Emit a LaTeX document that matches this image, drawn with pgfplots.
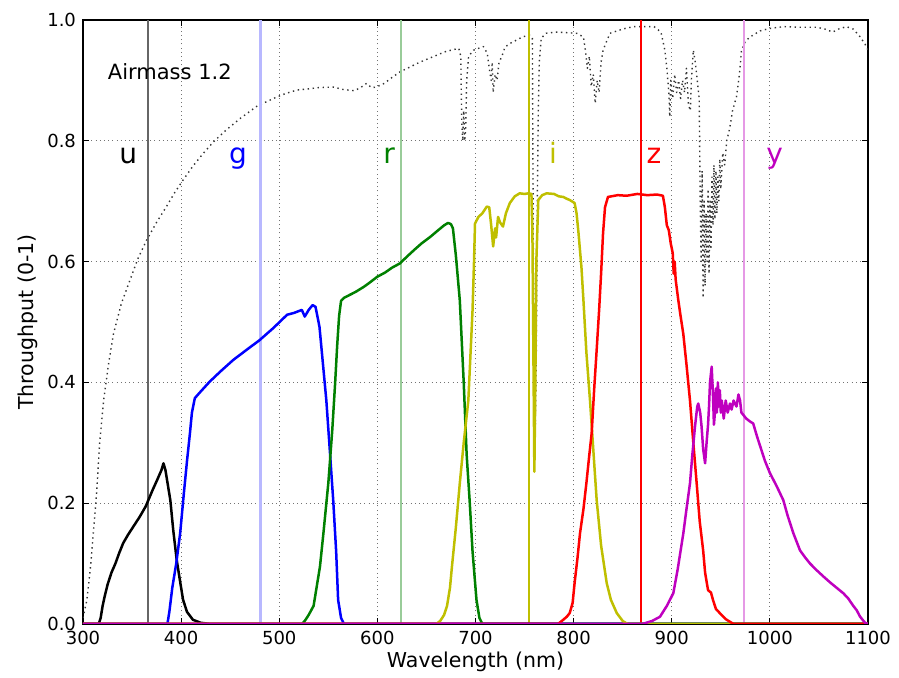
\documentclass[border=0pt]{standalone}
\usepackage{fontspec}
\setmainfont{DejaVu Sans}
\usepackage{pgfplots}
\pgfplotsset{compat=1.18}
\definecolor{mplgreen}{rgb}{0,0.5,0}
\definecolor{mplyellow}{rgb}{0.75,0.75,0}
\definecolor{mplmagenta}{rgb}{0.75,0,0.75}
\begin{document}
\begin{tikzpicture}
\useasboundingbox (-41.5pt,-27pt) rectangle (408pt,312pt);
\begin{axis}[
  scale only axis,
  width=392.5pt, height=302pt,
  xmin=300, xmax=1100, ymin=0, ymax=1,
  xtick={300,400,...,1100},
  ytick={0,0.2,...,1.0},
  xticklabel style={/pgf/number format/set thousands separator={}},
  yticklabel style={/pgf/number format/fixed,/pgf/number format/fixed zerofill,/pgf/number format/precision=1},
  /pgf/number format/assume math mode=true,
  ticklabel style={font=\fontsize{9pt}{11pt}\selectfont},
  label style={font=\fontsize{10.25pt}{12pt}\selectfont},
  xlabel={Wavelength (nm)},
  ylabel={Throughput (0-1)},
  xlabel style={yshift=3pt},
  ylabel style={yshift=-2pt},
  tick align=inside, major tick length=3pt,
  tick style={black, line width=0.5pt},
  axis line style={black, line width=0.6pt},
  grid=major,
  major grid style={black!55, line width=0.45pt, dash pattern=on 0.5pt off 1.6pt},
  every axis plot/.append style={line join=round},
]
% atmosphere, airmass 1.2
\addplot[black!80, line width=0.7pt, dash pattern=on 0.7pt off 1.8pt] coordinates {
(300,0.01) (304,0.04) (308,0.1) (311,0.16) (314,0.22) (317,0.3) (321,0.37) (326,0.43) (331,0.48)
(339,0.53) (348,0.57) (356,0.605) (365,0.636) (375,0.665) (385,0.691) (393,0.713) (402,0.735)
(412,0.758) (423,0.78) (434,0.8) (446,0.818) (461,0.838) (477,0.857) (494,0.87) (506,0.878)
(518,0.884) (530,0.886) (540,0.888) (555,0.889) (565,0.885) (576,0.883) (582,0.887) (589,0.895)
(594,0.888) (599,0.889) (607,0.895) (615,0.905) (623,0.914) (633,0.922) (643,0.93) (655,0.938)
(670,0.948) (683,0.953) (685,0.94) (686,0.83) (687,0.80) (688,0.85) (689,0.80) (690,0.82)
(691,0.90) (693,0.94) (698,0.95) (708,0.956) (712,0.945) (714,0.92) (716,0.90) (717,0.93)
(718,0.88) (720,0.91) (722,0.90) (724,0.93) (727,0.94) (730,0.955) (735,0.961) (748,0.972)
(755,0.975) (758,0.97) (759,0.6) (760,0.4) (761,0.33) (762,0.45) (763,0.7) (764,0.85) (765,0.93)
(767,0.97) (772,0.978) (782,0.98) (803,0.978) (810,0.972) (812,0.95) (814,0.92) (816,0.94)
(818,0.89) (820,0.91) (822,0.862) (824,0.90) (826,0.88) (828,0.93) (830,0.95) (837,0.978)
(850,0.985) (861,0.989) (882,0.989) (889,0.98) (893,0.95) (895,0.92) (897,0.88) (898,0.84)
(899,0.9) (901,0.87) (903,0.91) (905,0.88) (907,0.9) (909,0.87) (911,0.9) (913,0.88) (915,0.92)
(917,0.86) (919,0.85) (920,0.9) (922,0.95) (924,0.93) (926,0.9) (928,0.87) (929,0.7) (930,0.6)
(931,0.75) (932,0.54) (933,0.7) (934,0.56) (935,0.68) (936,0.6) (937,0.72) (938,0.58) (939,0.7)
(940,0.62) (941,0.74) (942,0.66) (943,0.76) (944,0.67) (945,0.75) (946,0.68) (947,0.74) (948,0.7)
(949,0.77) (950,0.72) (952,0.78) (954,0.76) (956,0.8) (959,0.82) (962,0.85) (966,0.873)
(969,0.91) (971,0.948) (975,0.965) (980,0.972) (986,0.978) (990,0.982) (1000,0.986) (1014,0.989)
(1030,0.988) (1048,0.988) (1056,0.985) (1064,0.98) (1070,0.985) (1078,0.989) (1085,0.985)
(1092,0.972) (1097,0.96) (1100,0.95)};
% filter centres
\addplot[black!60, line width=0.8pt] coordinates {(366,0) (366,1)};
\addplot[blue!28, line width=1.3pt] coordinates {(481,0) (481,1)};
\addplot[mplgreen!40, line width=1pt] coordinates {(624,0) (624,1)};
\addplot[mplyellow, line width=1pt] coordinates {(754.5,0) (754.5,1)};
\addplot[red, line width=1pt] coordinates {(868.7,0) (868.7,1)};
\addplot[mplmagenta!40, line width=1pt] coordinates {(974,0) (974,1)};
% u
\addplot[black, line width=1.25pt] coordinates {
(300,0) (316,0) (318,0.01) (320,0.03) (322,0.045) (325,0.065) (329,0.085) (333,0.1) (337,0.118)
(341,0.134) (346,0.148) (352,0.163) (358,0.178) (364,0.195) (371,0.222) (376,0.24) (380,0.255)
(382,0.266) (384,0.255) (386,0.235) (389,0.205) (392,0.155) (395.5,0.106) (399,0.07) (402,0.04)
(406,0.02) (412,0.007) (420,0.002) (430,0) (1100,0)};
% g
\addplot[blue, line width=1.25pt] coordinates {
(300,0) (386,0) (388,0.02) (391,0.06) (395,0.1) (399,0.15) (403,0.22) (406,0.27) (409,0.316)
(411,0.35) (414,0.374) (420,0.385) (429,0.401) (440,0.418) (453,0.437) (466,0.453) (480,0.47)
(494,0.49) (508,0.512) (515,0.515) (523,0.52) (526,0.509) (530,0.52) (534,0.528) (537,0.525)
(541,0.492) (544,0.44) (548,0.37) (551,0.3) (555,0.205) (558,0.12) (560,0.04) (563,0.01)
(566,0) (1100,0)};
% r
\addplot[mplgreen, line width=1.25pt] coordinates {
(300,0) (523,0) (526,0.005) (530,0.015) (535,0.03) (538,0.06) (541.5,0.095) (545,0.15)
(550,0.233) (554,0.32) (557,0.4) (559,0.46) (561,0.51) (563,0.535) (566,0.54) (572,0.545)
(578,0.55) (586,0.558) (592,0.565) (600,0.575) (608,0.582) (615,0.59) (623,0.597) (630,0.608)
(638,0.62) (645,0.63) (654,0.641) (662,0.652) (668,0.66) (672,0.664) (675,0.662) (677,0.655)
(680,0.61) (684,0.536) (688,0.40) (691,0.28) (694,0.205) (697,0.12) (701,0.04) (704,0.01)
(707,0) (1100,0)};
% i
\addplot[mplyellow, line width=1.25pt] coordinates {
(300,0) (660,0) (664,0.005) (668,0.015) (671,0.03) (674,0.06) (676,0.095) (680,0.16) (684,0.233)
(688,0.3) (692.7,0.37) (695,0.45) (697,0.52) (698.5,0.6) (699.5,0.663) (703,0.674) (707,0.68)
(711.5,0.691) (714,0.69) (716,0.66) (718,0.625) (720,0.655) (721,0.64) (723,0.674) (725,0.665)
(728,0.658) (731,0.68) (735,0.697) (740,0.708) (745,0.713) (750,0.712) (754,0.713) (757,0.712)
(758,0.65) (759,0.45) (760,0.252) (761,0.4) (762,0.6) (764,0.702) (768,0.71) (772.5,0.713)
(780,0.712) (785,0.708) (789.5,0.707) (793,0.704) (796,0.702) (801,0.697) (803,0.68) (805,0.647)
(808,0.59) (810,0.536) (813,0.45) (816.7,0.37) (820,0.29) (823.5,0.205) (828,0.13) (833.7,0.068)
(838,0.04) (844,0.018) (850,0.005) (855,0) (1100,0)};
% z
\addplot[red, line width=1.25pt] coordinates {
(300,0) (784,0) (788,0.005) (793,0.012) (796,0.018) (799,0.035) (801,0.068) (804,0.11)
(806.5,0.15) (810,0.19) (813,0.233) (816,0.28) (818.4,0.316) (821,0.39) (823.5,0.454) (826,0.52)
(828,0.58) (830,0.647) (832,0.69) (835,0.707) (845,0.71) (854,0.709) (865,0.712) (875,0.71)
(885,0.711) (891,0.709) (893,0.69) (895,0.66) (897,0.652) (899,0.63) (901,0.614) (902,0.58)
(903,0.6) (904,0.57) (906.7,0.536) (909,0.51) (911.8,0.48) (915,0.43) (918.6,0.37) (922,0.3)
(925.4,0.233) (928.5,0.17) (932,0.122) (934,0.085) (937,0.056) (940,0.052) (942,0.04) (945,0.025)
(949,0.018) (955,0.008) (963,0) (1100,0)};
% y
\addplot[mplmagenta, line width=1.25pt] coordinates {
(300,0) (870,0) (880,0.005) (888,0.012) (895,0.03) (901.6,0.051) (906,0.09) (911.8,0.15)
(915,0.19) (918.6,0.233) (921,0.28) (923.7,0.327) (926,0.36) (927,0.365) (929,0.35) (930.4,0.327)
(932,0.29) (934,0.266) (935.5,0.3) (937,0.33) (938,0.36) (939,0.4) (940.7,0.426) (942,0.38)
(943,0.33) (944,0.35) (945,0.39) (946,0.35) (947,0.4) (948,0.36) (949,0.387) (950,0.35) (951,0.37)
(953,0.34) (955,0.37) (957,0.35) (959.4,0.365) (961,0.355) (963,0.37) (966,0.36) (968,0.38)
(969.6,0.37) (971,0.35) (973,0.346) (976,0.34) (980,0.335) (983,0.332) (987,0.31) (991,0.29)
(995,0.27) (1000,0.25) (1007,0.228) (1013.7,0.205) (1018,0.18) (1024,0.15) (1030.7,0.122)
(1036,0.11) (1041,0.1) (1047.7,0.089) (1055,0.078) (1062,0.068) (1068,0.06) (1074.8,0.051)
(1080,0.042) (1085,0.03) (1088.4,0.023) (1092,0.012) (1097,0.002) (1100,0)};
% labels
\node[anchor=west, font=\fontsize{10.5pt}{12pt}\selectfont, inner sep=0pt] at (axis cs:325,0.914) {Airmass 1.2};
\begin{scope}[every node/.style={anchor=base, inner sep=0pt, font=\fontsize{14pt}{16pt}\selectfont}]
\node[black] at (axis cs:346,0.763) {u};
\node[blue] at (axis cs:458,0.763) {g};
\node[mplgreen] at (axis cs:612,0.763) {r};
\node[mplyellow] at (axis cs:779,0.763) {i};
\node[red] at (axis cs:882,0.763) {z};
\node[mplmagenta] at (axis cs:1005,0.763) {y};
\end{scope}
\end{axis}
\end{tikzpicture}
\end{document}
